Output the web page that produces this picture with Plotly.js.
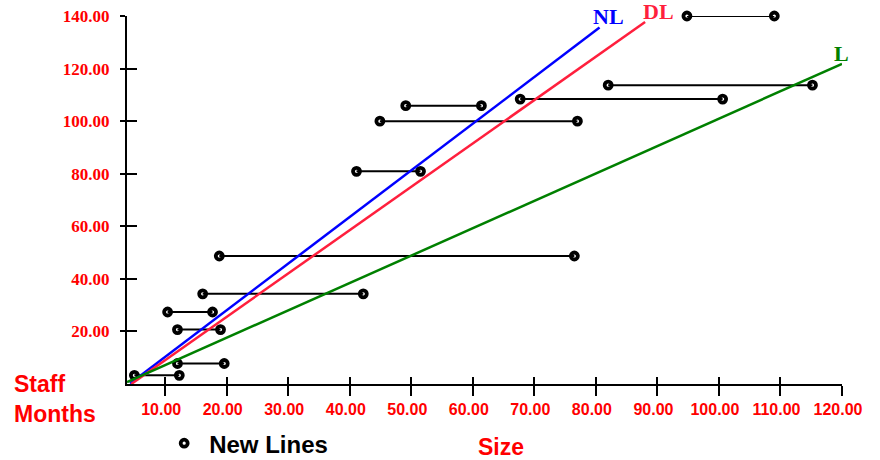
<!DOCTYPE html>
<html>
<head>
<meta charset="utf-8">
<script src="https://cdn.plot.ly/plotly-3.0.1.min.js"></script>
<style>html,body{margin:0;padding:0;background:#fff;}#chart{width:880px;height:460px;}</style>
</head>
<body>
<div id="chart"></div>
<script>
// Horizontal "New Lines" ranges: staff months (y) with size range [left, right]
var staffMonths = [140.0, 113.7, 108.4, 105.9, 100.0, 80.9, 48.7, 34.3, 27.4, 20.7, 7.8, 3.3];
var sizeLow     = [94.8, 82.0, 67.7, 49.1, 44.9, 41.1, 18.8, 16.1, 10.4, 12.0, 12.0, 5.0];
var sizeHigh    = [109.0, 115.2, 100.6, 61.4, 77.0, 51.5, 76.5, 42.2, 17.7, 19.0, 19.6, 12.3];

// Fitted lines (start and end points)
var nlX = [4.3, 80.6],  nlY = [0.2, 135.6];
var dlX = [4.5, 88.0],  dlY = [0.0, 137.7];
var lX  = [3.8, 120.0], lY  = [0.7, 121.8];

var lineNames = ['NL', 'DL', 'L'];

var xTicks = [10, 20, 30, 40, 50, 60, 70, 80, 90, 100, 110, 120];
var yTicks = [20, 40, 60, 80, 100, 120, 140];

var red = '#ff0000';
var lineColors = ['#0000ff', '#ff1f3d', '#008000'];

// Build segment paths
var segX = [], segY = [], ptX = [], ptY = [];
for (var i = 0; i < staffMonths.length; i++) {
  segX.push(sizeLow[i], sizeHigh[i], null);
  segY.push(staffMonths[i], staffMonths[i], null);
  ptX.push(sizeLow[i], sizeHigh[i]);
  ptY.push(staffMonths[i], staffMonths[i]);
}

var traces = [
  {x: segX, y: segY, mode: 'lines', line: {color: '#000', width: 2}, showlegend: false, hoverinfo: 'skip'},
  {x: ptX, y: ptY, mode: 'markers', name: 'New Lines', cliponaxis: false,
   marker: {symbol: 'circle-open', size: 7, color: '#000', line: {width: 3.8, color: '#000'}}},
  {x: nlX, y: nlY, mode: 'lines', line: {color: lineColors[0], width: 2.5}, showlegend: false},
  {x: dlX, y: dlY, mode: 'lines', line: {color: lineColors[1], width: 2.5}, showlegend: false},
  {x: lX, y: lY, mode: 'lines', line: {color: lineColors[2], width: 2.5}, showlegend: false},
  {x: [], y: [], xaxis: 'x2', yaxis: 'y2', mode: 'markers', showlegend: false, hoverinfo: 'skip'}
];

var xr = [3.8, 120], yr = [0, 140];

// label positions (paper fractions of plot area)
var labelPX = [0.673, 0.743, 0.999];
var labelPY = [1.0, 1.011, 0.899];

var annotations = [];
for (var k = 0; k < lineNames.length; k++) {
  annotations.push({x: labelPX[k], y: labelPY[k], xref: 'paper', yref: 'paper', text: lineNames[k], showarrow: false,
    xanchor: 'center', yanchor: 'middle',
    font: {family: 'Liberation Serif, Times New Roman, serif', size: 22, color: lineColors[k], weight: 'bold'}});
}
annotations.push({x: -0.161, y: -0.04, xref: 'paper', yref: 'paper', xanchor: 'left', yanchor: 'middle', align: 'left',
  text: 'Staff<br>Months', showarrow: false,
  font: {family: 'Liberation Sans, Arial, sans-serif', size: 23, color: red, weight: 'bold'}});
annotations.push({x: 0.523, y: -0.17, xref: 'paper', yref: 'paper', xanchor: 'center', yanchor: 'middle',
  text: 'Size', showarrow: false,
  font: {family: 'Liberation Sans, Arial, sans-serif', size: 23, color: red, weight: 'bold'}});

var layout = {
  width: 880, height: 460,
  margin: {l: 127, r: 38, t: 16, b: 75.5, autoexpand: false},
  paper_bgcolor: '#fff', plot_bgcolor: '#fff',
  showlegend: true,
  legend: {x: 0.045, y: -0.162, xanchor: 'left', yanchor: 'middle', bgcolor: 'rgba(0,0,0,0)', itemwidth: 40,
    font: {family: 'Liberation Sans, Arial, sans-serif', size: 24, color: '#000', weight: 'bold'}},
  xaxis: {range: xr, tickvals: xTicks, tickformat: '.2f', ticks: 'outside', ticklen: 10, tickwidth: 2, tickcolor: '#000',
    showline: true, linewidth: 2, linecolor: '#000', showgrid: false, zeroline: false, ticklabelshift: -4,
    tickfont: {family: 'Liberation Sans, Arial, sans-serif', size: 16, color: red, weight: 'bold'}},
  yaxis: {range: yr, tickvals: yTicks, tickformat: '.2f', ticks: 'outside', ticklen: 5, tickwidth: 2, tickcolor: '#000',
    showline: true, linewidth: 2, linecolor: '#000', showgrid: false, zeroline: false, ticklabelstandoff: 7,
    tickfont: {family: 'Liberation Serif, Times New Roman, serif', size: 17, color: red, weight: 'bold'}},
  xaxis2: {overlaying: 'x', anchor: 'y2', range: xr, tickvals: xTicks, ticks: 'inside', ticklen: 7, tickwidth: 2,
    tickcolor: '#000', showticklabels: false, showline: false, showgrid: false, zeroline: false},
  yaxis2: {overlaying: 'y', anchor: 'x2', range: yr, tickvals: yTicks, ticks: 'inside', ticklen: 10, tickwidth: 2,
    tickcolor: '#000', showticklabels: false, showline: false, showgrid: false, zeroline: false},
  annotations: annotations
};

Plotly.newPlot('chart', traces, layout, {displayModeBar: false, staticPlot: true});
</script>
</body>
</html>
